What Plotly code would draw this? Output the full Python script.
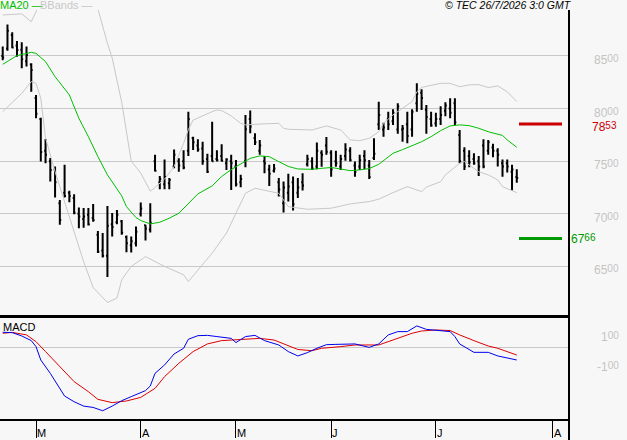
import plotly.graph_objects as go

# ---------------- data ----------------
opens = [8500,8570,8700,8600,8560,8450,8420,8100,7900,7600,7500,7420,7100,7200,7200,7150,7000,6950,6990,6960,
         6800,6650,6600,6900,6920,6930,6780,6700,6720,7000,6890,6850,7500,7300,7280,7290,7450,7500,7500,7600,
         7720,7650,7620,7520,7550,7520,7550,7480,7500,7450,7300,7500,7900,7720,7600,7500,7420,7410,7300,7100,
         7200,7300,7200,7300,7470,7500,7450,7580,7650,7580,7500,7450,7550,7600,7460,7450,7550,7460,7530,7850,
         7800,7900,7880,7800,7800,7850,7800,8050,8150,7990,7900,7860,7900,7980,8000,8050,7750,7600,7550,7520,
         7500,7650,7600,7630,7600,7480,7480,7400,7350]
highs = [8590,8800,8725,8643,8630,8590,8430,8130,7914,7711,7531,7450,7132,7465,7218,7186,7060,7056,7056,7094,
         6837,6818,7075,7008,7037,6942,6793,6783,6878,7107,6895,7100,7560,7360,7517,7340,7612,7527,7605,7971,
         7733,7708,7685,7570,7876,7605,7660,7527,7560,7512,7370,7940,7981,7766,7702,7550,7465,7474,7340,7306,
         7380,7355,7340,7386,7560,7537,7677,7605,7730,7605,7600,7560,7670,7632,7496,7560,7605,7512,7718,8066,
         7866,7971,7993,8050,7845,7971,7993,8240,8183,8035,7971,7961,8021,8060,8098,8098,7797,7632,7605,7575,
         7550,7708,7702,7665,7623,7517,7517,7465,7423]
lows = [8460,8550,8573,8493,8383,8400,8160,7908,7496,7480,7306,7154,6895,7154,7110,6996,6863,6868,6888,6925,
        6628,6584,6398,6783,6900,6800,6635,6631,6688,6974,6745,6822,7402,7233,7233,7233,7432,7400,7423,7550,
        7606,7590,7465,7387,7496,7496,7496,7417,7227,7260,7253,7443,7766,7655,7560,7386,7265,7392,7165,7012,
        7116,7032,7150,7221,7450,7417,7423,7447,7560,7353,7447,7417,7505,7496,7353,7417,7423,7330,7512,7797,
        7733,7797,7845,7760,7685,7670,7733,7971,7987,7760,7828,7828,7845,7926,7908,7845,7480,7417,7443,7465,
        7360,7432,7560,7537,7450,7353,7392,7221,7296]
closes = [8485,8740,8580,8557,8470,8510,8367,7950,7588,7560,7417,7300,6942,7170,7170,7010,6975,6975,6898,6940,
          6640,6600,6887,6875,6990,6820,6720,6740,6830,7050,6860,6914,7410,7330,7350,7320,7560,7460,7440,7900,
          7680,7610,7500,7400,7500,7510,7505,7515,7480,7280,7330,7803,7830,7680,7650,7480,7380,7430,7230,7250,
          7260,7090,7250,7270,7520,7430,7600,7560,7590,7420,7480,7520,7610,7510,7400,7510,7510,7350,7570,7940,
          7820,7850,7960,8020,7810,7740,7970,8140,8100,7920,7840,7900,7940,8030,7960,7870,7500,7450,7490,7480,
          7450,7450,7680,7600,7560,7450,7450,7420,7340]

ma20_idx = [0,3,6,7,9,11,14,16,18,20,22,25,26,28,29,31,33,35,37,39,41,44,46,48,50,52,54,56,58,60,62,65,67,69,
            71,73,75,77,79,81,82,84,86,88,90,92,94,96,98,100,102,105,106,108]
ma20_val = [8421,8503,8535,8525,8446,8303,8130,7908,7733,7543,7370,7170,7068,6964,6936,6904,6920,6958,7005,7100,
            7189,7265,7355,7420,7474,7527,7550,7543,7496,7450,7426,7423,7432,7440,7426,7410,7417,7430,7470,7537,
            7575,7610,7645,7685,7733,7790,7835,7845,7838,7813,7780,7745,7702,7632]

bb_up_idx = [0,4,6,7,8,12,16,20,22,23,25,27,29,31,32,34,36,38,39,40,44,45,46,48,50,51,55,58,59,60,65,68,71,73,
             75,77,79,80,82,84,86,87,88,92,94,96,98,100,102,104,106,108]
bb_up_val = [8890,8900,8826,8920,9050,9300,9250,8950,8620,8480,8060,7500,7387,7215,7250,7330,7448,7670,7800,7890,
             7971,7987,7981,7930,7860,7845,7855,7860,7813,7803,7797,7835,7797,7702,7695,7718,7780,7860,7940,8003,
             8066,8160,8202,8240,8240,8208,8225,8228,8200,8215,8160,8066]

bb_lo_idx = [0,4,6,7,8,9,11,13,15,17,19,22,24,25,27,30,34,38,39,41,44,47,49,51,53,58,60,64,69,73,77,79,82,85,
             88,89,92,93,96,97,100,102,104,105,108]
bb_lo_val = [7971,8145,8256,8240,8098,7720,7400,7115,6830,6545,6300,6157,6198,6372,6500,6593,6500,6420,6356,6467,
             6626,6816,7005,7195,7243,7195,7068,7043,7053,7094,7116,7139,7201,7258,7211,7253,7306,7370,7480,7496,
             7400,7370,7322,7258,7201]

macd_idx = [0,2,4,6,7,8,10,12,13,15,17,19,21,23,25,27,30,31,32,34,36,38,39,41,43,45,48,49,51,53,55,58,60,62,64,
            66,68,70,74,77,79,81,83,85,87,89,91,94,95,96,99,102,104,107,108]
macd_val = [105,102,80,49,9,-80,-169,-269,-320,-358,-387,-396,-418,-387,-351,-324,-284,-253,-169,-113,-40,-2,58,
            82,84,76,64,36,76,84,49,20,-24,-53,-31,-2,22,24,27,4,27,87,109,109,147,124,116,109,76,27,-29,-29,-53,
            -76,-80]

signal_idx = [0,2,5,7,9,12,15,18,20,23,26,29,32,34,37,40,43,46,48,51,54,57,60,62,65,67,71,74,79,81,84,86,88,91,
              94,96,99,102,104,106,108]
signal_val = [98,104,87,42,-24,-124,-224,-291,-342,-364,-353,-329,-269,-191,-102,-24,27,49,53,58,64,53,15,-10,
              -18,-2,9,20,20,42,76,98,113,120,116,87,49,13,-2,-24,-47]

price_ticks = [6500, 7000, 7500, 8000, 8500]
macd_ticks = [100, -100]
month_labels = ["M", "A", "M", "J", "J", "A"]
month_pos = [7, 29, 49, 69, 91, 115.6]
resistance = 7853
support = 6766
stamp = "© TEC 26/7/2026 3:0 GMT"

# ---------------- figure ----------------
W, H = 627, 440
BG = "#f7f7f7"
GRID = "#c8c8c8"
n = len(closes)
xs = list(range(n))

fig = go.Figure()
fig.add_trace(go.Ohlc(
    x=xs, open=opens, high=highs, low=lows, close=closes,
    increasing=dict(line=dict(color="black", width=2)),
    decreasing=dict(line=dict(color="black", width=2)),
    tickwidth=0.3, xaxis="x", yaxis="y", hoverinfo="skip"))
fig.add_trace(go.Scatter(x=bb_up_idx, y=bb_up_val, mode="lines",
                         line=dict(color=GRID, width=1), xaxis="x", yaxis="y"))
fig.add_trace(go.Scatter(x=bb_lo_idx, y=bb_lo_val, mode="lines",
                         line=dict(color=GRID, width=1), xaxis="x", yaxis="y"))
fig.add_trace(go.Scatter(x=ma20_idx, y=ma20_val, mode="lines",
                         line=dict(color="#00c000", width=1), xaxis="x", yaxis="y"))
fig.add_trace(go.Scatter(x=signal_idx, y=signal_val, mode="lines",
                         line=dict(color="#dd0000", width=1), xaxis="x2", yaxis="y2"))
fig.add_trace(go.Scatter(x=macd_idx, y=macd_val, mode="lines",
                         line=dict(color="#0000ee", width=1), xaxis="x2", yaxis="y2"))

xr = [-0.57, 118.97]
xdom = [0, 569 / W]
main_dom = [1 - 315 / H, 1 - 10 / H]
macd_dom = [1 - 419 / H, 1 - 316 / H]

fig.update_layout(
    width=W, height=H, margin=dict(l=0, r=0, t=0, b=0),
    paper_bgcolor=BG, plot_bgcolor=BG, showlegend=False,
    font=dict(family="Liberation Sans, Arial, sans-serif", size=11, color="black"),
    xaxis=dict(domain=xdom, range=xr, anchor="y", showgrid=False, zeroline=False,
               showticklabels=False, ticks="", showline=True, linecolor="black",
               linewidth=3, rangeslider=dict(visible=False), fixedrange=True),
    yaxis=dict(domain=main_dom, range=[6038, 8937], anchor="x", tickvals=price_ticks,
               showticklabels=False, showgrid=True, gridcolor=GRID, gridwidth=1,
               zeroline=False, ticks="", showline=False),
    xaxis2=dict(domain=xdom, range=xr, anchor="y2", showgrid=False, zeroline=False,
                tickvals=month_pos, ticks="outside", ticklen=17, tickwidth=1,
                tickcolor="black", showticklabels=False, showline=True,
                linecolor="black", linewidth=2),
    yaxis2=dict(domain=macd_dom, range=[-473, 213], anchor="x2", tickvals=[0],
                showticklabels=False, showgrid=True, gridcolor=GRID, gridwidth=1,
                zeroline=False, ticks="", showline=False),
)

# right vertical axis line
fig.add_shape(type="line", xref="paper", yref="paper", x0=569 / W, x1=569 / W,
              y0=0, y1=1 - 10 / H, line=dict(color="black", width=2))

# support / resistance levels
fig.add_shape(type="line", xref="paper", yref="y", x0=519 / W, x1=562 / W,
              y0=resistance, y1=resistance, line=dict(color="#cc0000", width=3))
fig.add_shape(type="line", xref="paper", yref="y", x0=519 / W, x1=562 / W,
              y0=support, y1=support, line=dict(color="#009900", width=3))

ann = []
LBL = "#c4c4c4"


def split_text(v):
    """Big leading digits + smaller raised last two digits (as on the reference)."""
    s = str(abs(int(v)))
    sign = "-" if v < 0 else ""
    return (f"{sign}{s[:-2]}<span style='font-size:10px;baseline-shift:2px'>"
            f"{s[-2:]}</span>")


for v in price_ticks:
    ann.append(dict(x=620 / W, xref="paper", y=v, yref="y", yshift=-4, text=split_text(v),
                    showarrow=False, xanchor="right", yanchor="middle", borderpad=0,
                    font=dict(size=12, color=LBL)))
for v in macd_ticks:
    ann.append(dict(x=620 / W, xref="paper", y=v, yref="y2", yshift=-4, text=split_text(v),
                    showarrow=False, xanchor="right", yanchor="middle", borderpad=0,
                    font=dict(size=12, color=LBL)))
ann.append(dict(x=618 / W, xref="paper", y=resistance, yref="y", yshift=-3,
                text=split_text(resistance), showarrow=False, xanchor="right",
                yanchor="middle", borderpad=0, font=dict(size=12, color="#cc0000")))
ann.append(dict(x=570 / W, xref="paper", y=support, yref="y", yshift=-1,
                text=split_text(support), showarrow=False, xanchor="left",
                yanchor="middle", borderpad=0, font=dict(size=12, color="#009900")))

for lab, p in zip(month_labels, month_pos):
    ann.append(dict(x=p, xref="x2", y=1 - 433 / H, yref="paper", text=lab, xshift=-1,
                    showarrow=False, xanchor="left", yanchor="middle",
                    font=dict(size=11, color="black")))
ann.append(dict(x=0, xref="paper", y=1 - 5 / H, yref="paper", text="MA20 —",
                showarrow=False, xanchor="left", yanchor="middle", xshift=-2,
                font=dict(size=11, color="#00c000")))
ann.append(dict(x=38 / W, xref="paper", y=1 - 5 / H, yref="paper", text="BBands —",
                showarrow=False, xanchor="left", yanchor="middle",
                font=dict(size=11, color=GRID)))
ann.append(dict(x=574 / W, xref="paper", y=1 - 5 / H, yref="paper",
                text=f"<i>{stamp}</i>", showarrow=False, xanchor="right",
                yanchor="middle", font=dict(size=10.5, color="black")))
ann.append(dict(x=1 / W, xref="paper", y=1 - 327 / H, yref="paper", text="MACD",
                showarrow=False, xanchor="left", yanchor="middle",
                font=dict(size=11, color="black")))
fig.update_layout(annotations=ann)

fig.write_html("out.html")
